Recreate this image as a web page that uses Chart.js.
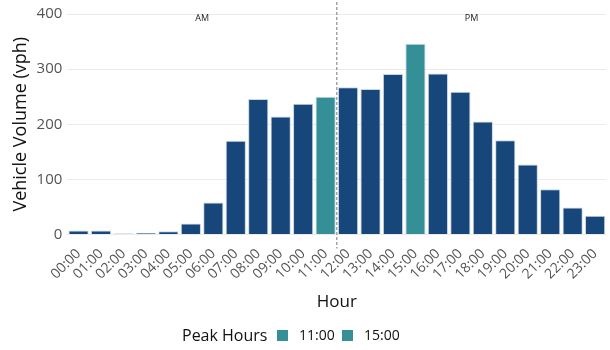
<!DOCTYPE html>
<html>
<head>
    <title>Hourly Vehicle Volume</title>
    <script src="https://cdn.jsdelivr.net/npm/chart.js"></script>
    <style>
        html, body { margin: 0; padding: 0; background: #fff; }
        #wrap { width: 610px; height: 350px; }
    </style>
</head>
<body>
    <div id="wrap"><canvas id="myChart"></canvas></div>
    <script>
        var hours = ['00:00','01:00','02:00','03:00','04:00','05:00','06:00','07:00','08:00','09:00','10:00','11:00',
                     '12:00','13:00','14:00','15:00','16:00','17:00','18:00','19:00','20:00','21:00','22:00','23:00'];
        var volumes = [7, 7, 2, 3, 6, 20, 58, 170, 246, 214, 237, 250,
                       267, 264, 291, 346, 292, 259, 205, 171, 127, 82, 49, 34];
        var peakHours = ['11:00', '15:00'];
        var yTicks = [0, 100, 200, 300, 400];

        var baseColor = '#16467a';
        var peakColor = '#348f96';
        var fontFamily = "'Open Sans', sans-serif";

        var colors = hours.map(h => peakHours.indexOf(h) >= 0 ? peakColor : baseColor);

        // dashed noon line, AM / PM labels, and the bottom legend
        var extras = {
            id: 'extras',
            afterDraw: function (chart) {
                var c = chart.ctx;
                var x = chart.scales.x;
                var area = chart.chartArea;
                var noon = (x.getPixelForValue(11) + x.getPixelForValue(12)) / 2;

                c.save();
                c.strokeStyle = '#777';
                c.lineWidth = 1;
                c.setLineDash([3, 2]);
                c.beginPath();
                c.moveTo(noon, 2);
                c.lineTo(noon, area.bottom + 14);
                c.stroke();
                c.setLineDash([]);

                c.fillStyle = '#222';
                c.font = '9px ' + fontFamily;
                c.textAlign = 'center';
                c.textBaseline = 'middle';
                var amX = (x.getPixelForValue(5) + x.getPixelForValue(6)) / 2;
                var pmX = (x.getPixelForValue(17) + x.getPixelForValue(18)) / 2;
                c.fillText('AM', amX, 18);
                c.fillText('PM', pmX, 18);

                // legend
                var ly = 336;
                c.textAlign = 'left';
                c.fillStyle = '#111';
                c.font = '16px ' + fontFamily;
                c.fillText('Peak Hours', 182, ly);
                c.font = '14px ' + fontFamily;
                var lx = 277;
                peakHours.forEach(function (h) {
                    c.fillStyle = peakColor;
                    c.fillRect(lx, ly - 6, 11, 11);
                    c.fillStyle = '#111';
                    c.fillText(h, lx + 22, ly);
                    lx += 65;
                });
                c.restore();
            }
        };

        var ctx = document.getElementById('myChart').getContext('2d');
        var myChart = new Chart(ctx, {
            type: 'bar',
            data: {
                labels: hours,
                datasets: [{
                    label: 'Vehicle Volume',
                    data: volumes,
                    backgroundColor: colors,
                    borderColor: '#c9d6e3',
                    borderWidth: 1,
                    categoryPercentage: 1,
                    barPercentage: 0.9
                }]
            },
            options: {
                responsive: true,
                maintainAspectRatio: false,
                animation: false,
                layout: { padding: { top: 6, right: 0, bottom: 38, left: 10 } },
                plugins: {
                    legend: { display: false },
                    tooltip: { enabled: false }
                },
                scales: {
                    x: {
                        grid: { display: false },
                        border: { display: false },
                        ticks: {
                            color: '#555',
                            font: { family: fontFamily, size: 14 },
                            maxRotation: 45,
                            minRotation: 45,
                            autoSkip: false,
                            padding: 3
                        },
                        title: {
                            display: true,
                            text: 'Hour',
                            color: '#111',
                            font: { family: fontFamily, size: 17 },
                            padding: { top: 6, bottom: 0 }
                        }
                    },
                    y: {
                        min: 0,
                        max: 400,
                        afterBuildTicks: function (axis) {
                            axis.ticks = yTicks.map(v => ({ value: v }));
                        },
                        grid: { color: '#ebebeb', drawTicks: false },
                        border: { display: false },
                        ticks: {
                            color: '#555',
                            font: { family: fontFamily, size: 15 },
                            padding: 5
                        },
                        title: {
                            display: true,
                            text: 'Vehicle Volume (vph)',
                            color: '#111',
                            font: { family: fontFamily, size: 18 },
                            padding: { top: 0, bottom: 0 }
                        }
                    }
                }
            },
            plugins: [extras]
        });
    </script>
</body>
</html>
